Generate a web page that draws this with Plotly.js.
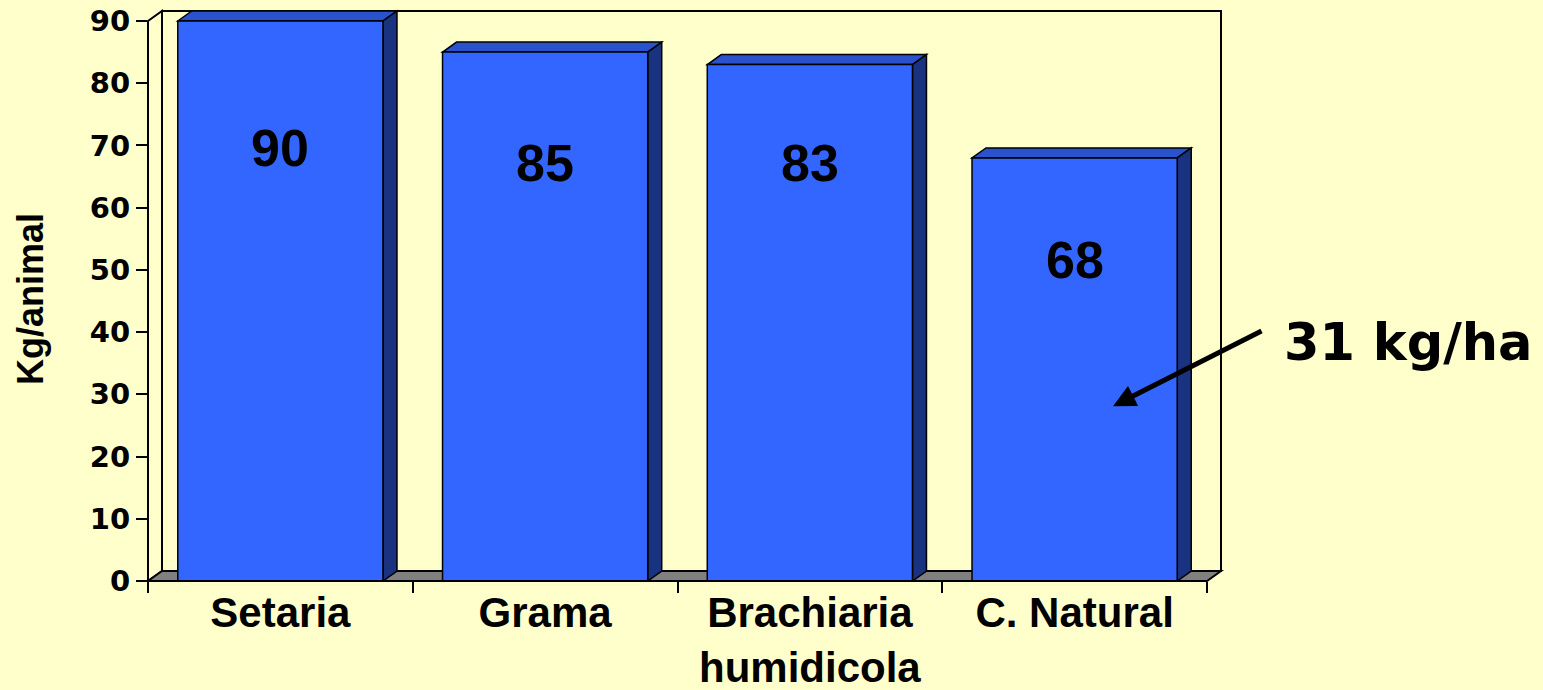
<!DOCTYPE html>
<html><head><meta charset="utf-8">
<script src="https://cdn.plot.ly/plotly-3.0.1.min.js"></script>
<style>html,body{margin:0;padding:0;background:#FFFFCC;} #chart{width:1543px;height:690px;}</style>
</head><body><div id="chart"></div>
<script>
// ---- data ----
const categories = ['Setaria', 'Grama', 'Brachiaria<br>humidicola', 'C. Natural'];
const values = [90, 85, 83, 68];
const valueLabels = ['90', '85', '83', '68'];
const yTickVals = [0, 10, 20, 30, 40, 50, 60, 70, 80, 90];
const yTickText = ['0', '10', '20', '30', '40', '50', '60', '70', '80', '90'];
const yTitle = 'Kg/animal';
const noteText = '31 kg/ha';

// ---- geometry / style ----
const L = 148, T = 9, PW = 1073, B = 581, PH = B - T;
const DXP = 14, DYP = 10;                 // 3-D depth in px
const catPx = (PW - DXP) / categories.length;
const unitPx = (B - 21) / 90;
const DX = DXP / catPx, DY = DYP / unitPx;
const halfW = 0.3875;
const labelDrop = [20.4, 17.8, 15.8, 16.4];
const px = x => (x - L) / PW;
const py = y => (B - y) / PH;
const FRONT = '#3366FF', TOP = '#2952CC', SIDE = '#1A3380';

const shapes = [];
// back wall
shapes.push({type: 'rect', xref: 'paper', yref: 'paper', layer: 'below',
  x0: px(L + DXP), x1: px(L + PW), y0: py(B - DYP), y1: py(21 - DYP),
  fillcolor: '#FFFFCC', line: {color: 'black', width: 2}});
// left wall
shapes.push({type: 'path', xref: 'paper', yref: 'paper', layer: 'below',
  path: `M ${px(L)},${py(B)} L ${px(L + DXP)},${py(B - DYP)} L ${px(L + DXP)},${py(21 - DYP)} L ${px(L)},${py(21)} Z`,
  fillcolor: '#FFFFCC', line: {color: 'black', width: 2}});
// floor
const xEnd = L + PW - DXP;
shapes.push({type: 'path', xref: 'paper', yref: 'paper', layer: 'below',
  path: `M ${px(L)},${py(B)} L ${px(xEnd)},${py(B)} L ${px(xEnd + DXP)},${py(B - DYP)} L ${px(L + DXP)},${py(B - DYP)} Z`,
  fillcolor: '#808080', line: {color: 'black', width: 2}});
// bar top & side faces
values.forEach((v, i) => {
  const a = i - halfW, b = i + halfW;
  shapes.push({type: 'path', xref: 'x', yref: 'y', layer: 'below',
    path: `M ${a},${v} L ${a + DX},${v + DY} L ${b + DX},${v + DY} L ${b},${v} Z`,
    fillcolor: TOP, line: {color: 'black', width: 1.5}});
  shapes.push({type: 'path', xref: 'x', yref: 'y', layer: 'below',
    path: `M ${b},0 L ${b + DX},${DY} L ${b + DX},${v + DY} L ${b},${v} Z`,
    fillcolor: SIDE, line: {color: 'black', width: 1.5}});
});
// front axis lines
shapes.push({type: 'line', xref: 'paper', yref: 'y', x0: 0, x1: 0, y0: 0, y1: 90,
  line: {color: 'black', width: 2}});
shapes.push({type: 'line', xref: 'x', yref: 'paper', x0: -0.5, x1: categories.length - 0.5, y0: 0, y1: 0,
  line: {color: 'black', width: 2}});

const annotations = [];
values.forEach((v, i) => {
  annotations.push({xref: 'x', yref: 'y', x: i, y: v - labelDrop[i], text: valueLabels[i],
    showarrow: false, xanchor: 'center', yanchor: 'middle',
    font: {family: 'Liberation Sans, Arial', size: 52, color: 'black', weight: 'bold'}});
});
annotations.push({xref: 'paper', yref: 'paper', x: px(30), y: py(299), text: yTitle, textangle: -90,
  showarrow: false, xanchor: 'center', yanchor: 'middle',
  font: {family: 'Liberation Sans, Arial', size: 36, color: 'black', weight: 'bold'}});
annotations.push({xref: 'x', yref: 'y', x: 3.145, y: 28.1, ax: 150, ay: -76, text: '',
  showarrow: true, arrowhead: 2, arrowsize: 0.9, arrowwidth: 5, arrowcolor: 'black', standoff: 0, startstandoff: 0});
annotations.push({xref: 'paper', yref: 'paper', x: px(1282), y: py(342), text: noteText,
  showarrow: false, xanchor: 'left', yanchor: 'middle',
  font: {family: 'DejaVu Sans', size: 51, color: 'black', weight: 'bold'}});

const trace = {type: 'bar', x: categories, y: values, width: 2 * halfW,
  marker: {color: FRONT, line: {color: 'black', width: 1.5}}, hoverinfo: 'none', textposition: 'none'};

const layout = {
  width: 1543, height: 690,
  paper_bgcolor: '#FFFFCC', plot_bgcolor: 'rgba(0,0,0,0)',
  margin: {l: L, r: 1543 - L - PW, t: T, b: 690 - B, pad: 0},
  showlegend: false,
  xaxis: {type: 'category', range: [-0.5, -0.5 + PW / catPx], tickson: 'boundaries',
    ticks: 'outside', ticklen: 11, tickwidth: 2, tickcolor: 'black', ticklabelstandoff: 3,
    showgrid: false, showline: false, zeroline: false, fixedrange: true,
    tickfont: {family: 'Liberation Sans, Arial', size: 42, color: 'black', weight: 'bold'}},
  yaxis: {range: [0, PH / unitPx], tickmode: 'array', tickvals: yTickVals, ticktext: yTickText,
    ticks: 'outside', ticklen: 11, tickwidth: 2, tickcolor: 'black',
    showgrid: false, showline: false, zeroline: false, fixedrange: true,
    tickfont: {family: 'DejaVu Sans', size: 29, color: 'black', weight: 'bold'}},
  shapes: shapes,
  annotations: annotations
};
Plotly.newPlot('chart', [trace], layout, {displayModeBar: false, staticPlot: true});
</script>
</body></html>
